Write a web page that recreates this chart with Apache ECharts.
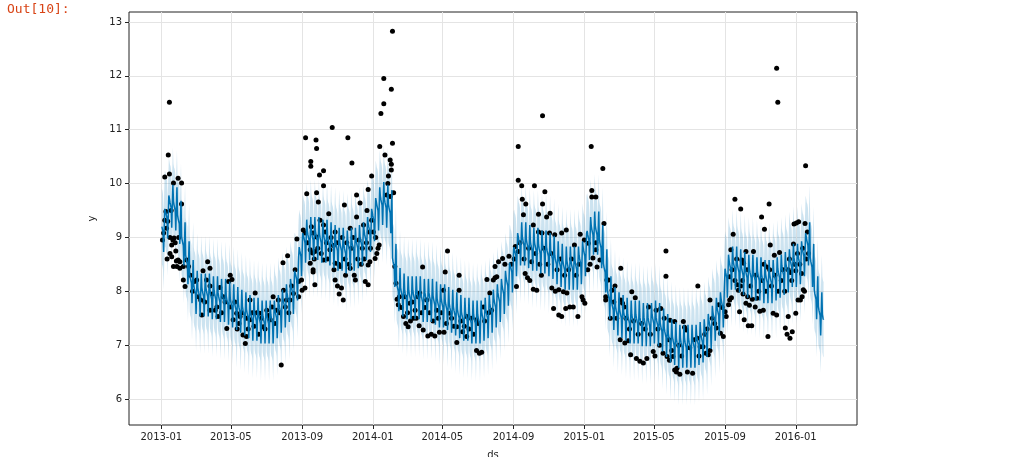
<!DOCTYPE html>
<html>
<head>
<meta charset="utf-8">
<script src="https://cdn.jsdelivr.net/npm/echarts@6/dist/echarts.min.js"></script>
<style>
  html, body { margin: 0; padding: 0; background: #fff; }
  #chart { width: 1014px; height: 457px; }
</style>
</head>
<body>
<div id="chart"></div>
<script>
// days are counted from 2013-01-01
const firstDay = 1;
const lastDay = 1143;

// forecast level, one value per week (week k = days 7k..7k+6)
const weeklyLevel = [
  9.15, 9.4, 9.6, 9.55, 9.3, 8.9, 8.55, 8.2, 8.0, 7.95,
  7.95, 7.95, 7.9, 7.9, 7.85, 7.85, 7.8, 7.75, 7.7, 7.65,
  7.6, 7.55, 7.5, 7.5, 7.45, 7.45, 7.45, 7.45, 7.55, 7.65,
  7.75, 7.85, 8.0, 8.25, 8.7, 8.95, 9.0, 9.0, 9.0, 8.95,
  8.95, 8.9, 8.85, 8.8, 8.8, 8.75, 8.8, 8.8, 8.85, 8.9,
  9.0, 9.15, 9.35, 9.55, 9.65, 9.6, 9.5, 8.5, 8.05, 7.95,
  7.9, 7.9, 7.9, 7.9, 7.85, 7.85, 7.85, 7.8, 7.75, 7.75,
  7.7, 7.65, 7.6, 7.55, 7.5, 7.5, 7.45, 7.45, 7.45, 7.5,
  7.55, 7.65, 7.75, 7.85, 8.0, 8.15, 8.4, 8.7, 8.9, 8.9,
  8.85, 8.8, 8.8, 8.75, 8.75, 8.7, 8.65, 8.55, 8.5, 8.45,
  8.45, 8.45, 8.45, 8.55, 8.7, 9.0, 9.1, 9.1, 8.85, 8.4,
  7.9, 7.7, 7.6, 7.55, 7.5, 7.45, 7.45, 7.45, 7.4, 7.4,
  7.4, 7.45, 7.4, 7.3, 7.2, 7.1, 7.05, 7.0, 7.0, 7.0,
  7.0, 7.0, 7.05, 7.1, 7.2, 7.35, 7.5, 7.6, 7.75, 8.3,
  8.45, 8.45, 8.4, 8.35, 8.3, 8.3, 8.25, 8.25, 8.2, 8.2,
  8.2, 8.25, 8.3, 8.35, 8.4, 8.5, 8.5, 8.55, 8.7, 8.9,
  8.5, 7.9, 7.6, 7.45
];
// weekly seasonality, Sun..Sat
const weekdayEffect = [0.0, 0.38, 0.12, 0.05, 0.02, -0.05, -0.42];
const bandHalfWidth = 0.7;

// observed points: [day, y]
const actual = [
  [14,11.51],[12,10.53],[6,10.12],[14,10.18],[21,10.01],[29,10.1],[35,10.01],[35,9.62],[8,9.48],
  [20,8.95],[22,8.99],[4,9.08],[6,9.32],[9,9.17],[15,9.0],[18,8.86],[15,8.7],[18,8.64],[26,8.56],
  [29,8.58],[32,8.55],[21,8.46],[27,8.46],[24,8.9],[38,8.21],[41,8.09],[44,8.58],[47,8.46],[38,8.46],
  [32,8.43],[2,8.95],[10,8.6],[25,8.75],[11,9.3],[17,9.5],[30,9.0],[50,8.3],[54,8.0],
  [57,8.18],[61,8.21],[68,7.84],[70,7.56],[72,8.38],[80,8.55],[84,8.43],[78,8.21],[84,8.1],[84,7.65],
  [93,7.65],[96,7.71],[98,7.53],[101,8.07],[107,7.9],[113,7.31],[116,8.18],[119,8.3],[122,8.22],[119,7.71],
  [124,7.47],[130,7.59],[131,7.3],[136,7.53],[141,7.19],[145,7.03],[147,7.16],[147,7.5],[153,7.84],[153,7.47],
  [162,7.97],[165,7.6],[170,7.59],[176,7.34],[182,7.65],[188,7.47],[191,7.71],[193,7.9],[199,7.65],[202,7.84],
  [207,6.63],[210,8.53],[211,8.02],[214,7.71],[216,7.84],[218,8.66],[222,7.84],[228,7.96],[234,8.97],[237,8.18],
  [237,7.9],[242,8.21],[243,8.02],
  [64,7.9],[75,7.8],[88,7.95],[104,7.6],[110,7.8],[127,7.8],[134,7.4],[139,7.6],[150,7.3],[157,7.6],
  [160,7.35],[168,7.2],[173,7.5],[179,7.3],[185,7.55],[196,7.4],[204,7.6],[220,7.6],[225,8.1],[231,8.4],
  [245,9.14],[248,9.08],[248,8.06],[249,10.85],[251,9.81],[257,8.77],[257,8.52],[258,10.41],[258,10.32],[261,8.71],
  [262,8.36],[262,8.4],[262,9.08],[265,8.12],[265,8.74],[267,10.81],[268,10.65],[268,9.83],[268,9.01],[271,9.66],
  [273,10.16],[274,9.32],[280,10.24],[280,9.96],[280,9.23],[280,8.58],[285,8.9],[289,9.44],[291,8.77],[295,11.04],
  [297,8.85],[300,9.1],[300,8.52],[300,8.21],[304,8.1],[307,7.95],[309,8.46],[311,8.06],[314,7.84],[316,9.6],
  [318,8.3],[322,10.85],[326,9.17],[326,8.43],[329,10.38],[333,8.3],[335,8.21],[337,9.79],[337,9.38],[343,9.64],
  [349,9.23],[352,8.18],[355,9.5],[357,9.89],[357,8.12],[357,8.49],[360,8.55],[363,10.14],[363,9.32],
  [252,8.9],[259,9.2],[264,8.6],[270,8.8],[276,8.7],[283,9.1],[287,8.6],[293,9.0],[298,8.4],[303,8.9],
  [306,8.5],[312,9.0],[317,8.6],[320,8.9],[324,8.5],[328,8.8],[331,9.0],[339,8.6],[341,8.95],[345,8.5],
  [347,8.8],[350,8.6],[354,8.9],[359,9.1],[361,8.8],[366,9.1],
  [369,8.61],[370,9.0],[372,8.7],[374,8.8],[376,8.86],[377,10.69],[379,11.3],[384,11.95],[384,11.48],[386,10.53],
  [389,9.79],[391,10.0],[392,10.14],[395,10.44],[395,9.76],[397,10.36],[397,10.25],[397,11.75],[399,12.83],[399,10.75],
  [401,9.83],[403,8.46],[405,8.15],[407,7.85],[409,7.75],[411,7.9],
  [418,7.53],[422,7.4],[426,7.34],[429,7.78],[430,7.45],[435,7.5],[440,7.5],[445,7.36],[446,7.97],[451,8.45],
  [452,7.28],[458,7.84],[460,7.17],[466,7.2],[472,7.17],[475,7.65],[480,7.24],[487,8.02],[488,7.24],[490,8.36],
  [494,8.75],[498,7.59],[510,7.05],[510,7.34],[514,8.3],[514,8.02],[520,7.25],[527,7.16],[527,7.53],[544,6.9],
  [544,7.47],[549,6.85],[553,6.87],[556,7.71],[562,8.22],[567,7.97],[570,7.65],[573,8.21],[576,8.25],[579,8.27],
  [414,7.7],[420,7.9],[425,7.6],[433,7.8],[438,7.65],[443,7.9],[449,7.6],[455,7.7],[463,7.6],[469,7.45],
  [478,7.5],[483,7.6],[492,7.4],[501,7.5],[505,7.35],[517,7.45],[523,7.35],[531,7.3],[535,7.5],[539,7.2],
  [547,7.4],[558,7.45],[565,7.6],
  [576,8.46],[582,8.55],[589,8.61],[593,8.5],[600,8.65],[609,8.6],[611,8.83],[613,8.09],[616,8.74],[616,10.69],
  [616,10.06],[622,9.96],[623,9.71],[625,9.42],[628,8.33],[629,9.62],[632,8.25],[636,8.2],[642,9.23],[642,8.04],
  [644,9.96],[648,8.02],[651,9.43],[651,9.1],[656,8.3],[657,9.08],[658,11.26],[658,9.62],[662,9.85],[665,9.38],
  [670,9.08],[671,9.45],[674,8.06],[677,7.68],[679,9.05],[680,8.0],[686,7.56],[686,8.03],[691,9.08],[691,7.53],
  [694,7.99],[698,7.68],[699,9.14],[700,7.97],[705,7.71],[711,7.71],[713,8.86],[719,7.53],[723,9.06],[726,7.9],
  [728,7.84],[730,8.95],[731,7.78],
  [604,8.5],[619,8.9],[626,8.6],[634,8.8],[639,8.55],[646,8.7],[653,8.5],[660,8.8],[667,8.5],[673,8.7],
  [683,8.4],[689,8.6],[696,8.3],[703,8.4],[708,8.6],[716,8.3],[721,8.5],
  [736,8.4],[737,8.89],[740,8.5],[742,10.69],[743,9.87],[743,9.75],[745,8.62],[750,9.75],[750,8.9],[750,8.77],
  [752,8.45],[757,8.58],[762,10.28],[764,9.26],[767,7.9],[767,7.84],[769,8.21],[772,8.21],[775,7.5],[778,8.02],
  [783,8.1],[792,7.1],[793,8.43],[793,7.84],[796,7.78],[799,7.71],[800,7.04],[806,7.08],[810,6.82],[812,7.99],
  [818,7.88],[820,6.75],[826,6.7],[832,6.67],[838,6.75],[841,7.71],[849,6.88],[852,6.8],[854,7.65],[862,7.68],
  [866,6.85],[868,7.5],[871,8.75],[871,8.28],[873,6.79],[877,6.72],[878,7.46],[883,6.79],[886,6.54],[886,7.44],
  [889,6.5],[890,6.57],[895,6.46],[901,7.44],[903,7.33],[906,7.28],[908,6.5],[917,6.48],[925,7.13],[926,8.1],
  [930,6.97],[935,6.97],[940,6.85],[944,6.82],[947,7.84],[947,6.9],
  [781,7.8],[786,7.5],[802,7.5],[808,7.3],[815,7.45],[823,7.2],[829,7.4],[835,7.3],[844,7.2],[857,7.3],
  [860,7.0],[876,7.1],[881,6.9],[893,7.0],[898,6.8],[912,6.95],[920,7.1],[928,6.8],[938,7.2],[942,7.3],
  [951,7.5],[955,7.4],
  [958,7.32],[962,7.75],[965,7.22],[968,7.7],[970,7.16],[973,7.62],[975,7.53],[979,7.75],[981,8.27],[981,7.84],
  [983,8.77],[984,7.88],[987,9.06],[990,9.71],[990,8.2],[994,8.12],[996,8.02],[998,7.62],[1000,9.53],[1000,8.1],
  [1002,8.58],[1004,7.95],[1005,8.52],[1006,7.47],[1009,8.74],[1009,7.78],[1012,7.9],[1013,7.36],[1015,7.74],[1019,7.36],
  [1020,7.85],[1022,8.74],[1025,7.71],[1028,7.87],[1033,7.63],[1036,9.38],[1039,7.65],[1040,8.5],[1041,9.15],[1045,8.45],
  [1047,7.16],[1049,9.62],[1050,8.4],[1051,8.86],[1056,7.59],[1058,8.67],[1062,12.14],[1062,7.56],[1064,11.51],[1067,8.72],
  [1077,7.32],[1080,7.2],[1082,8.4],[1082,7.53],[1085,7.13],[1086,8.35],[1089,7.25],[1091,8.88],[1092,9.25],[1095,7.59],
  [1095,8.38],[1096,9.27],[1099,7.84],[1100,9.29],[1103,7.84],[1105,8.33],[1106,7.9],[1108,8.03],[1110,8.0],[1111,9.26],
  [1112,10.33],[1115,9.1],
  [985,8.4],[993,8.6],[1003,8.2],[1011,8.4],[1017,8.1],[1026,8.3],[1031,8.0],[1037,8.2],[1043,8.0],[1053,8.1],
  [1059,8.3],[1065,8.0],[1070,8.2],[1073,8.4],[1076,8.0],[1084,8.6],[1088,8.2],[1093,8.5],[1098,8.7],[1102,8.5],
  [1107,8.8],[1113,8.6],[1117,8.7]
];

const xTickLabels = ['2013-01', '2013-05', '2013-09', '2014-01', '2014-05', '2014-09', '2015-01', '2015-05', '2015-09', '2016-01'];
const yTicks = [6, 7, 8, 9, 10, 11, 12, 13];

const dayMs = 86400000;
const day0 = new Date(2013, 0, 1).getTime();
const toTime = d => new Date(2013, 0, 1 + d).getTime();

const forecast = [], bandLower = [], bandUpper = [];
for (let d = firstDay; d <= lastDay; d++) {
  const t = new Date(2013, 0, 1 + d);
  const yhat = weeklyLevel[Math.floor(d / 7)] + weekdayEffect[t.getDay()];
  forecast.push([t.getTime(), yhat]);
  bandLower.push([t.getTime(), yhat - bandHalfWidth]);
  bandUpper.push([t.getTime(), yhat + bandHalfWidth]);
}
const points = actual.map(p => [toTime(p[0]), p[1]]);
const xTickValues = xTickLabels.map(s => {
  const [y, m] = s.split('-').map(Number);
  return new Date(y, m - 1, 1).getTime();
});

// uncertainty interval as one polygon: upper edge then lower edge backwards
function renderBand(params, api) {
  const pts = bandUpper.map(p => api.coord(p));
  for (let i = bandLower.length - 1; i >= 0; i--) pts.push(api.coord(bandLower[i]));
  return {
    type: 'polygon',
    shape: { points: pts },
    style: { fill: 'rgba(0,114,178,0.2)' }
  };
}

const font = 'DejaVu Sans';
const chart = echarts.init(document.getElementById('chart'));
chart.setOption({
  animation: false,
  backgroundColor: '#fff',
  graphic: [{
    type: 'text', left: 7, top: 3,
    style: { text: 'Out[10]:', fill: '#D84315', font: '13px "DejaVu Sans Mono"' }
  }],
  grid: {
    left: 129, top: 12, right: 157, bottom: 32,
    show: true, borderColor: '#222', borderWidth: 1, backgroundColor: '#fff',
    outerBoundsMode: 'none'
  },
  xAxis: {
    type: 'value',
    min: day0 - 55.75 * dayMs,
    max: day0 + 1200.7 * dayMs,
    name: 'ds', nameLocation: 'middle', nameGap: 25,
    nameTextStyle: { fontFamily: font, fontSize: 10, color: '#222' },
    axisLine: { show: false },
    axisTick: { show: true, inside: false, length: 4, customValues: xTickValues, lineStyle: { color: '#222' } },
    axisLabel: {
      customValues: xTickValues, margin: 7, hideOverlap: false,
      fontFamily: font, fontSize: 10, color: '#222',
      formatter: v => {
        const dt = new Date(v);
        return dt.getFullYear() + '-' + String(dt.getMonth() + 1).padStart(2, '0');
      }
    },
    splitLine: { show: true, lineStyle: { color: '#e4e4e4', width: 1 } }
  },
  yAxis: {
    type: 'value',
    min: 5.517, max: 13.186,
    name: 'y', nameLocation: 'middle', nameGap: 32, nameRotate: 90,
    nameTextStyle: { fontFamily: font, fontSize: 10, color: '#222' },
    axisLine: { show: false },
    axisTick: { show: true, inside: false, length: 4, customValues: yTicks, lineStyle: { color: '#222' } },
    axisLabel: { customValues: yTicks, margin: 7, fontFamily: font, fontSize: 10, color: '#222' },
    splitLine: { show: true, lineStyle: { color: '#e4e4e4', width: 1 } }
  },
  series: [
    {
      type: 'scatter', data: points, symbolSize: 5, silent: true,
      itemStyle: { color: '#000', opacity: 1 }
    },
    {
      type: 'line', data: forecast, showSymbol: false, symbol: 'none', silent: true,
      lineStyle: { color: '#0072B2', width: 1.5 }
    },
    {
      type: 'custom', data: [0], silent: true, clip: true,
      renderItem: renderBand
    }
  ]
});
</script>
</body>
</html>
